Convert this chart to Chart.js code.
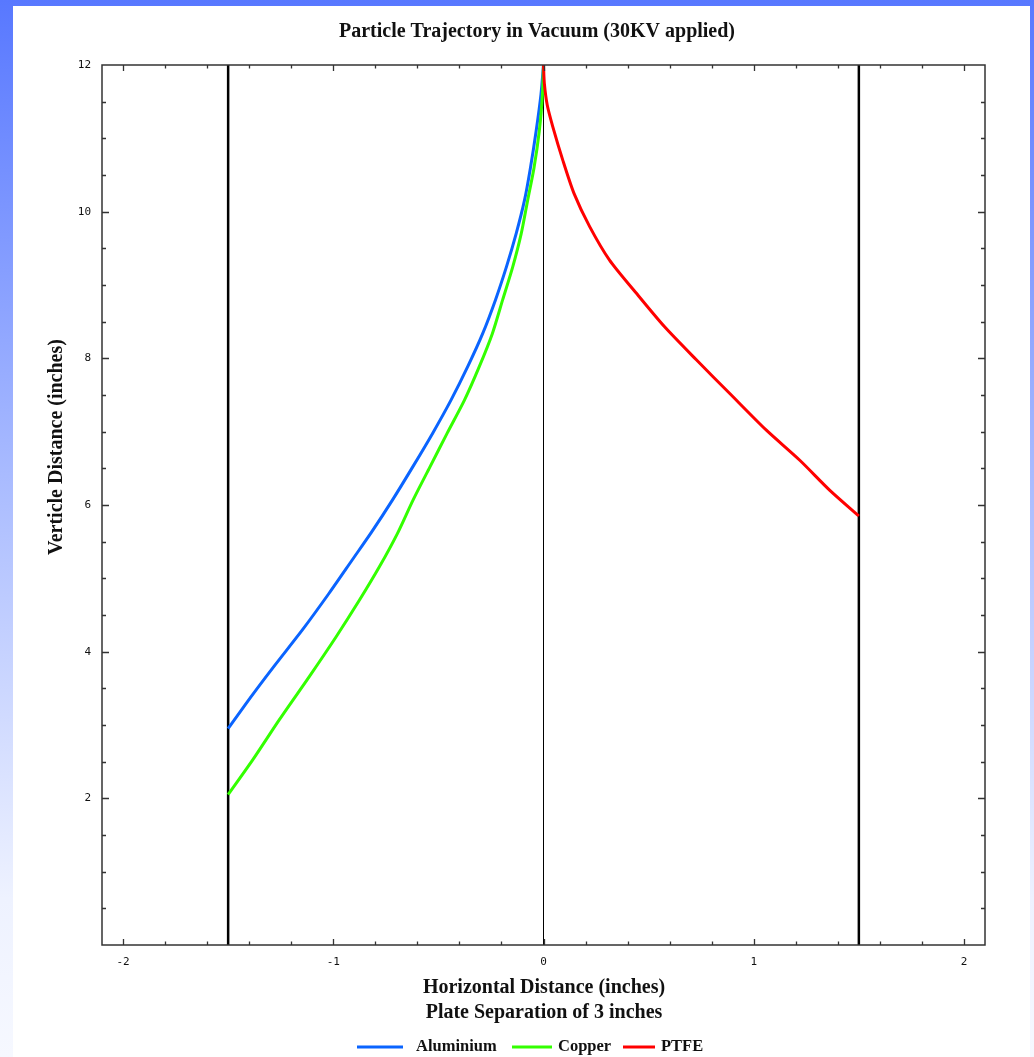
<!DOCTYPE html>
<html>
<head>
<meta charset="utf-8">
<script src="https://cdn.jsdelivr.net/npm/chart.js@4"></script>
<style>
  html, body { margin: 0; padding: 0; }
  body {
    width: 1034px; height: 1057px; position: relative; overflow: hidden;
    background: linear-gradient(to bottom, #5878ff 0%, #a9bbff 45%, #eef2ff 85%, #f6f8ff 100%);
  }
  #panel { position: absolute; left: 13px; top: 6px; width: 1017px; height: 1051px; background: #fff; }
  #wrap { position: absolute; left: 0; top: 0; width: 1034px; height: 1057px; }
</style>
</head>
<body>
<div id="panel"></div>
<div id="wrap"><canvas id="trajectoryChart" width="1034" height="1057"></canvas></div>
<script>
// (inches)
const aluminiumX = [0, -0.012, -0.035, -0.062, -0.09, -0.13, -0.176, -0.228, -0.289, -0.36, -0.44, -0.527, -0.622, -0.718, -0.818, -0.91, -1.019, -1.146, -1.282, -1.395, -1.5];
const aluminiumY = [12, 11.6, 11.1, 10.6, 10.16, 9.7, 9.25, 8.8, 8.34, 7.89, 7.43, 6.98, 6.52, 6.07, 5.63, 5.25, 4.8, 4.3, 3.8, 3.37, 2.95];
const copperX = [0, -0.005, -0.02, -0.045, -0.075, -0.106, -0.146, -0.194, -0.243, -0.305, -0.376, -0.458, -0.54, -0.62, -0.695, -0.78, -0.876, -0.987, -1.114, -1.257, -1.384, -1.5];
const copperY = [12, 11.6, 11.1, 10.6, 10.16, 9.7, 9.25, 8.8, 8.34, 7.89, 7.43, 6.98, 6.52, 6.07, 5.61, 5.16, 4.7, 4.2, 3.66, 3.07, 2.52, 2.05];
const ptfeX = [0, 0.004, 0.018, 0.044, 0.092, 0.145, 0.219, 0.314, 0.441, 0.576, 0.727, 0.886, 1.06, 1.219, 1.362, 1.5];
const ptfeY = [12, 11.75, 11.45, 11.16, 10.7, 10.25, 9.8, 9.34, 8.89, 8.43, 7.98, 7.52, 7.02, 6.61, 6.2, 5.85];

const plateX = [-1.5, 1.5];
const centreX = 0;
const xTicks = [-2, -1, 0, 1, 2];
const yTicks = [2, 4, 6, 8, 10, 12];

const seriesNames = ["Aluminium", "Copper", "PTFE"];
const seriesColors = ["#0a64ff", "#33ff00", "#ff0000"];

function pts(xs, ys) {
    return xs.map((x, i) => ({ x: x, y: ys[i] }));
}

const serif = "'Liberation Serif', 'Times New Roman', serif";

// inward ticks, box, titles and legend
const decorPlugin = {
    id: 'decor',
    afterDatasetsDraw(chart) {
        const ctx = chart.ctx;
        const a = chart.chartArea;
        const xs = chart.scales.x, ys = chart.scales.y;
        ctx.save();
        ctx.strokeStyle = '#333';
        ctx.lineWidth = 1.5;
        ctx.strokeRect(a.left, a.top, a.right - a.left, a.bottom - a.top);
        ctx.lineWidth = 1.3;
        for (let k = -10; k <= 10; k++) {
            const v = k / 5;
            const px = Math.round(xs.getPixelForValue(v)) + 0.5;
            const len = (k % 5 === 0) ? 6 : 3.5;
            ctx.beginPath();
            ctx.moveTo(px, a.bottom); ctx.lineTo(px, a.bottom - len);
            ctx.moveTo(px, a.top); ctx.lineTo(px, a.top + len);
            ctx.stroke();
        }
        for (let k = 1; k < 24; k++) {
            const v = k / 2;
            const py = Math.round(ys.getPixelForValue(v)) + 0.5;
            const len = (k % 4 === 0) ? 7 : 4;
            ctx.beginPath();
            ctx.moveTo(a.left, py); ctx.lineTo(a.left + len, py);
            ctx.moveTo(a.right, py); ctx.lineTo(a.right - len, py);
            ctx.stroke();
        }

        ctx.fillStyle = '#111';
        ctx.textAlign = 'center';
        ctx.textBaseline = 'middle';
        ctx.font = 'bold 20px ' + serif;
        ctx.fillText('Particle Trajectory in Vacuum (30KV applied)', 537, 32);

        ctx.font = 'bold 20px ' + serif;
        ctx.fillText('Horizontal Distance (inches)', 544, 988);
        ctx.fillText('Plate Separation of 3 inches', 544, 1013);

        ctx.save();
        ctx.translate(57, 447);
        ctx.rotate(-Math.PI / 2);
        ctx.fillText('Verticle Distance (inches)', 0, 0);
        ctx.restore();

        // legend
        ctx.font = 'bold 16.5px ' + serif;
        ctx.textAlign = 'left';
        const lineStart = [357, 512, 623];
        const lineEnd = [403, 552, 655];
        const textStart = [416, 558, 661];
        const ly = 1047;
        seriesNames.forEach((n, i) => {
            ctx.strokeStyle = seriesColors[i];
            ctx.lineWidth = 3;
            ctx.beginPath();
            ctx.moveTo(lineStart[i], ly); ctx.lineTo(lineEnd[i], ly);
            ctx.stroke();
            ctx.fillStyle = '#111';
            ctx.fillText(n, textStart[i], ly);
        });
        ctx.restore();
    }
};

const plateSets = plateX.map(px => ({
    label: 'plate',
    data: [{ x: px, y: 0 }, { x: px, y: 12 }],
    borderColor: '#000',
    borderWidth: 2.5,
    pointRadius: 0,
    tension: 0,
    order: 5
}));

new Chart(document.getElementById('trajectoryChart'), {
    type: 'scatter',
    data: {
        datasets: [
            { label: seriesNames[0], data: pts(aluminiumX, aluminiumY), borderColor: seriesColors[0], order: 2 },
            { label: seriesNames[1], data: pts(copperX, copperY), borderColor: seriesColors[1], order: 1 },
            { label: seriesNames[2], data: pts(ptfeX, ptfeY), borderColor: seriesColors[2], order: 0 },
            ...plateSets,
            {
                label: 'centre',
                data: [{ x: centreX, y: 0 }, { x: centreX, y: 12 }],
                borderColor: '#000',
                borderWidth: 1,
                pointRadius: 0,
                tension: 0,
                order: 6
            }
        ]
    },
    options: {
        responsive: false,
        animation: false,
        showLine: true,
        datasets: { scatter: { pointRadius: 0, borderWidth: 3, showLine: true, tension: 0.25 } },
        layout: { padding: { left: 0, top: 65, right: 49, bottom: 0 } },
        plugins: { legend: { display: false }, tooltip: { enabled: false }, title: { display: false } },
        scales: {
            x: {
                type: 'linear', min: -2.1, max: 2.1,
                grid: { display: false, drawTicks: false },
                border: { display: false },
                afterBuildTicks: s => { s.ticks = xTicks.map(v => ({ value: v })); },
                afterFit: s => { s.height = 112; },
                ticks: { padding: 11, color: '#111', font: { family: 'DejaVu Sans Mono', size: 11 }, maxRotation: 0 }
            },
            y: {
                type: 'linear', min: 0, max: 12,
                grid: { display: false, drawTicks: false },
                border: { display: false },
                afterBuildTicks: s => { s.ticks = yTicks.map(v => ({ value: v })); },
                afterFit: s => { s.width = 102; },
                ticks: { padding: 11, color: '#111', font: { family: 'DejaVu Sans Mono', size: 11 } }
            }
        }
    },
    plugins: [decorPlugin]
});
</script>
</body>
</html>
